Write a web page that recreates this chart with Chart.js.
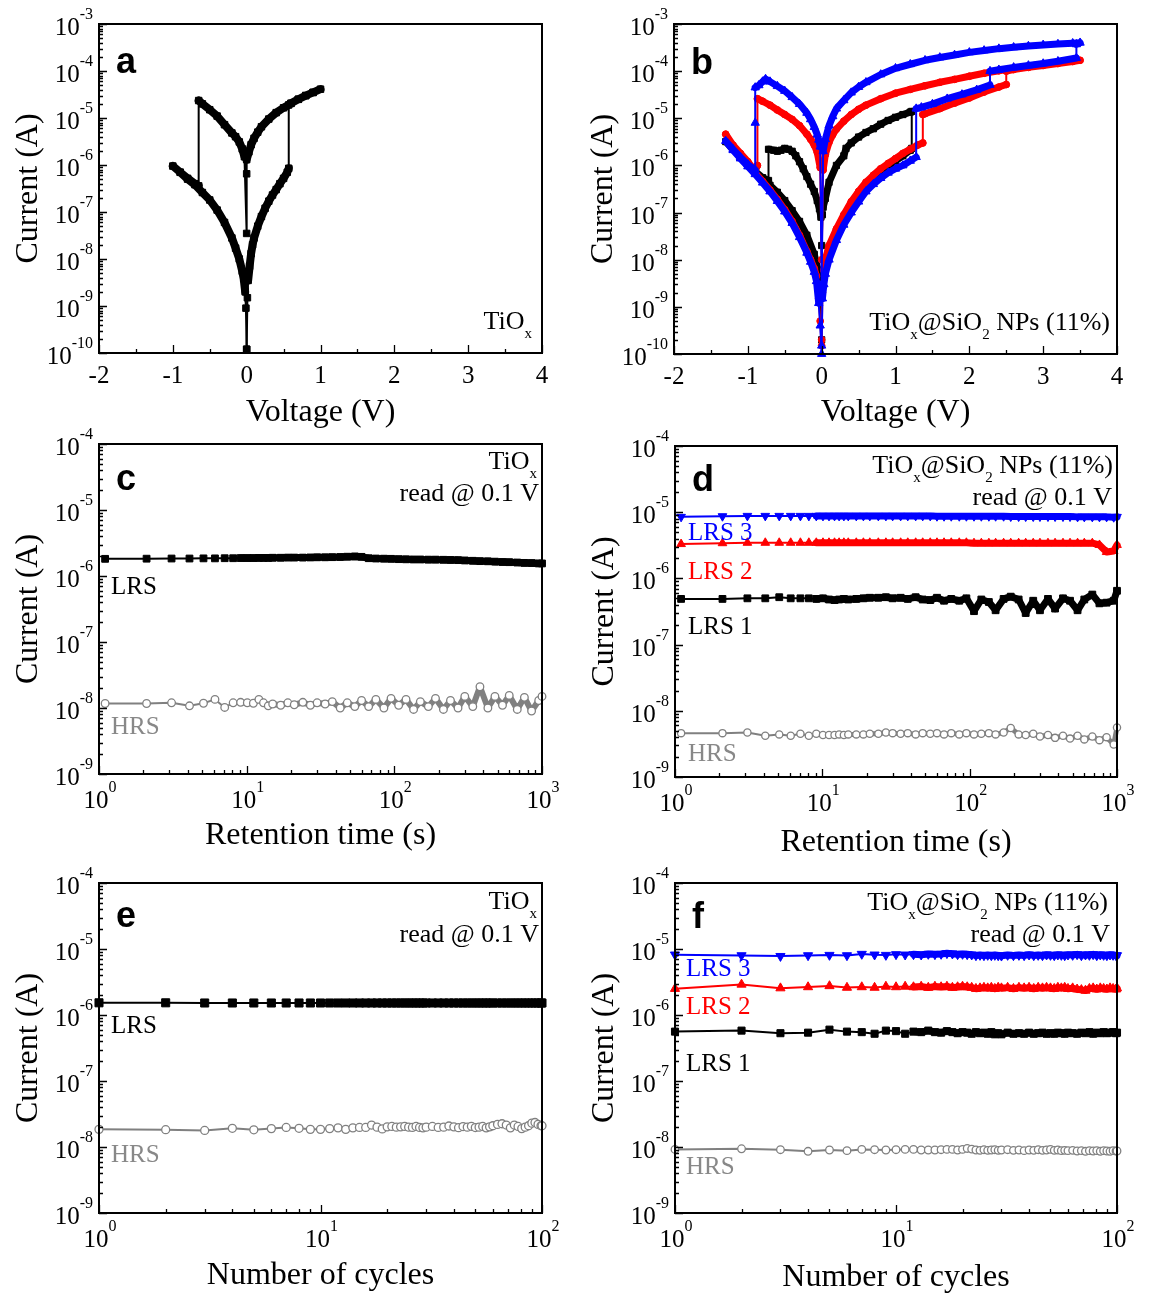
<!DOCTYPE html>
<html>
<head>
<meta charset="utf-8">
<script src="https://cdn.jsdelivr.net/npm/chart.js@4/dist/chart.umd.min.js"></script>
<style>
  html, body { margin: 0; padding: 0; background: #fff; }
  body { position: relative; width: 1149px; height: 1295px; overflow: hidden; }
  canvas { position: absolute; }
</style>
</head>
<body>
<canvas id="pa"></canvas>
<canvas id="pb"></canvas>
<canvas id="pc"></canvas>
<canvas id="pd"></canvas>
<canvas id="pe"></canvas>
<canvas id="pf"></canvas>
<script>
// ---------------- data: (a) TiOx I-V sweep ----------------
const aVoltage = [
  0.00, 0.01, 0.02, 0.04, 0.06, 0.08, 0.10, 0.15, 0.20, 0.25, 0.30, 0.35, 0.40, 0.45, 0.50, 0.55, 0.57,
  0.57, 0.60, 0.70, 0.80, 0.90, 1.00, 0.90, 0.80, 0.70, 0.60, 0.50, 0.40, 0.30, 0.20, 0.15, 0.10, 0.06, 0.03,
  0.00, 0.00, 0.00,
  -0.03, -0.06, -0.10, -0.15, -0.20, -0.30, -0.40, -0.50, -0.60, -0.65,
  -0.65, -0.70, -0.80, -0.90, -1.00, -0.90, -0.80, -0.70, -0.60, -0.50, -0.40, -0.30, -0.20, -0.15, -0.10, -0.06, -0.04, -0.02, -0.01, 0.00
];
const aCurrent = [
  1.2e-10, 1.5e-9, 3.5e-9, 7e-9, 1.3e-8, 2e-8, 2.8e-8, 5e-8, 8e-8, 1.2e-7, 1.7e-7, 2.3e-7, 3e-7, 4e-7, 5.2e-7, 7e-7, 8.5e-7,
  1.9e-5, 2.05e-5, 2.5e-5, 3e-5, 3.5e-5, 4.1e-5, 3.5e-5, 3e-5, 2.5e-5, 2.05e-5, 1.65e-5, 1.3e-5, 9.5e-6, 6.5e-6, 5e-6, 3.7e-6, 2.7e-6, 1.9e-6,
  1.3e-6, 6.5e-7, 3.5e-8,
  1.5e-6, 2.2e-6, 3.1e-6, 4e-6, 4.8e-6, 7.2e-6, 1.1e-5, 1.5e-5, 2e-5, 2.35e-5,
  3.6e-7, 4e-7, 5.2e-7, 7e-7, 9.5e-7, 7e-7, 5e-7, 3.8e-7, 2.6e-7, 1.8e-7, 1.1e-7, 6e-8, 2.8e-8, 1.7e-8, 1e-8, 5.5e-9, 3.8e-9, 2e-9, 9e-10, 1.2e-10
];

// ---------------- data: (b) TiOx@SiO2 I-V, three sweeps ----------------
const bBlackV = [
  0.01, 0.02, 0.05, 0.10, 0.20, 0.30, 0.40, 0.50, 0.60, 0.70, 0.80, 0.90, 1.00, 1.10, 1.20, 1.22,
  1.22, 1.20, 1.10, 1.00, 0.90, 0.80, 0.70, 0.60, 0.50, 0.40, 0.33, 0.30, 0.20, 0.10, 0.05, 0.02, 0.01,
  0.00, -0.01,
  -0.03, -0.06, -0.10, -0.15, -0.20, -0.25, -0.30, -0.35, -0.40, -0.45, -0.50, -0.55, -0.60, -0.65, -0.72,
  -0.72, -0.80, -0.90, -1.00, -1.10, -1.20, -1.30,
  -1.20, -1.10, -1.00, -0.90, -0.80, -0.70, -0.60, -0.50, -0.40, -0.30, -0.20, -0.10, -0.05, -0.02, 0.00
];
const bBlackI = [
  3e-9, 5e-9, 9e-9, 1.8e-8, 4e-8, 8e-8, 1.4e-7, 2.3e-7, 3.5e-7, 5e-7, 7e-7, 9.5e-7, 1.25e-6, 1.6e-6, 2.1e-6, 2.3e-6,
  1.4e-5, 1.35e-5, 1.2e-5, 1.05e-5, 9e-6, 7.5e-6, 6e-6, 5e-6, 4e-6, 3e-6, 2.3e-6, 1.6e-6, 1e-6, 4.4e-7, 2e-7, 1.3e-7, 9e-8,
  2e-8, 8e-8,
  1.2e-7, 1.8e-7, 2.8e-7, 4e-7, 5.8e-7, 8.5e-7, 1.2e-6, 1.6e-6, 2e-6, 2.2e-6, 2.3e-6, 2.1e-6, 2e-6, 2.1e-6, 2.2e-6,
  4.8e-7, 5.5e-7, 7.5e-7, 1e-6, 1.5e-6, 2.2e-6, 3.2e-6,
  2.2e-6, 1.5e-6, 1e-6, 7.5e-7, 5.2e-7, 3.8e-7, 2.7e-7, 1.8e-7, 1.1e-7, 6.5e-8, 3.3e-8, 1.3e-8, 6e-9, 3e-9, 2e-10
];
const bRedV = [
  0.00, 0.01, 0.03, 0.05, 0.10, 0.20, 0.30, 0.40, 0.50, 0.60, 0.70, 0.80, 0.90, 1.00, 1.10, 1.20, 1.30, 1.37,
  1.37, 1.40, 1.60, 1.80, 2.00, 2.20, 2.40, 2.50, 2.50, 2.60, 2.80, 3.00, 3.20, 3.40, 3.50,
  3.40, 3.20, 3.00, 2.80, 2.60, 2.40, 2.20, 2.00, 1.80, 1.60, 1.40, 1.20, 1.00, 0.80, 0.60, 0.50, 0.40, 0.30, 0.20, 0.15, 0.10, 0.05, 0.02,
  0.00,
  -0.02, -0.06, -0.10, -0.15, -0.20, -0.30, -0.40, -0.50, -0.60, -0.70, -0.80, -0.87,
  -0.87, -0.90, -1.00, -1.10, -1.20, -1.30,
  -1.20, -1.10, -1.00, -0.90, -0.80, -0.70, -0.60, -0.50, -0.40, -0.30, -0.20, -0.15, -0.10, -0.07, -0.04, -0.02, 0.00
];
const bRedI = [
  2e-10, 2e-9, 6e-9, 1e-8, 2e-8, 4.5e-8, 9e-8, 1.7e-7, 2.8e-7, 4.4e-7, 6.2e-7, 8.5e-7, 1.1e-6, 1.4e-6, 1.8e-6, 2.2e-6, 2.7e-6, 3e-6,
  1.2e-5, 1.25e-5, 1.6e-5, 2.1e-5, 2.7e-5, 3.6e-5, 4.6e-5, 5.2e-5, 1e-4, 1.08e-4, 1.2e-4, 1.32e-4, 1.45e-4, 1.6e-4, 1.7e-4,
  1.65e-4, 1.52e-4, 1.4e-4, 1.28e-4, 1.15e-4, 1.02e-4, 9e-5, 7.8e-5, 6.7e-5, 5.8e-5, 4.9e-5, 4.1e-5, 3.4e-5, 2.6e-5, 1.9e-5, 1.55e-5, 1.2e-5, 8.7e-6, 5.9e-6, 4.5e-6, 3.1e-6, 1.7e-6, 8e-7,
  1e-8,
  9e-7, 1.9e-6, 2.7e-6, 3.6e-6, 4.6e-6, 7e-6, 9.5e-6, 1.2e-5, 1.5e-5, 1.9e-5, 2.3e-5, 2.6e-5,
  1e-6, 7.5e-7, 1.2e-6, 1.8e-6, 2.7e-6, 4.6e-6,
  2.5e-6, 1.6e-6, 1.05e-6, 7e-7, 4.6e-7, 3e-7, 1.9e-7, 1.15e-7, 6.5e-8, 3.3e-8, 1.5e-8, 1e-8, 6.5e-9, 4.5e-9, 1.5e-9, 5e-10, 1.5e-10
];
const bBlueV = [
  0.00, 0.01, 0.03, 0.05, 0.10, 0.20, 0.30, 0.40, 0.50, 0.60, 0.70, 0.80, 0.90, 1.00, 1.10, 1.20, 1.28,
  1.28, 1.35, 1.50, 1.70, 1.90, 2.10, 2.28, 2.28, 2.40, 2.60, 2.80, 3.00, 3.20, 3.45, 3.45, 3.50,
  3.40, 3.20, 3.00, 2.80, 2.60, 2.40, 2.20, 2.00, 1.80, 1.60, 1.40, 1.20, 1.00, 0.80, 0.60, 0.50, 0.40, 0.30, 0.20, 0.15, 0.10, 0.05, 0.02,
  0.00,
  -0.02, -0.04, -0.06, -0.10, -0.15, -0.20, -0.30, -0.40, -0.50, -0.60, -0.70, -0.76, -0.80, -0.85, -0.90,
  -0.90, -0.90, -1.00, -1.10, -1.20, -1.30,
  -1.20, -1.10, -1.00, -0.90, -0.80, -0.70, -0.60, -0.50, -0.40, -0.30, -0.20, -0.15, -0.10, -0.07, -0.04, -0.02, 0.00
];
const bBlueI = [
  1.5e-10, 1.5e-9, 3e-9, 5e-9, 1e-8, 2.6e-8, 5.5e-8, 1e-7, 1.7e-7, 2.8e-7, 4e-7, 5.4e-7, 7e-7, 8.5e-7, 1e-6, 1.25e-6, 1.5e-6,
  1.6e-5, 1.7e-5, 2e-5, 2.6e-5, 3.2e-5, 4e-5, 5.1e-5, 1e-4, 1.07e-4, 1.2e-4, 1.32e-4, 1.45e-4, 1.62e-4, 1.9e-4, 3.7e-4, 4e-4,
  3.9e-4, 3.75e-4, 3.6e-4, 3.4e-4, 3.2e-4, 3e-4, 2.75e-4, 2.5e-4, 2.2e-4, 1.95e-4, 1.7e-4, 1.4e-4, 1.15e-4, 8.5e-5, 5.8e-5, 4.6e-5, 3.5e-5, 2.4e-5, 1.6e-5, 1.1e-5, 7e-6, 3.6e-6, 2e-6,
  3e-9,
  2.5e-6, 3.5e-6, 4.5e-6, 6.5e-6, 9.5e-6, 1.3e-5, 2e-5, 2.8e-5, 3.8e-5, 4.8e-5, 6e-5, 6.8e-5, 6e-5, 5e-5, 4.5e-5,
  8e-6, 8e-7, 1.05e-6, 1.5e-6, 2.2e-6, 3.3e-6,
  2.1e-6, 1.4e-6, 9.5e-7, 6.5e-7, 4.3e-7, 2.8e-7, 1.75e-7, 1.05e-7, 6e-8, 3e-8, 1.4e-8, 9e-9, 5.5e-9, 3.5e-9, 1.2e-9, 4e-10, 1e-10
];

// ---------------- data: (c, d) retention ----------------
const retentionTime = [1.1, 2.1, 3.1, 4.1, 5.1, 6.1, 7.1, 8.1, 9.1, 10.1, 11.1, 12.1, 13, 14, 15, 17, 19, 21, 24, 27, 30,
  34, 38, 43, 48, 54, 60, 67, 75, 85, 95, 107, 120, 135, 150, 170, 190, 215, 240, 270, 300,
  340, 380, 430, 480, 540, 600, 680, 760, 850, 950, 1000];
const cLRS = [1.82e-6, 1.83e-6, 1.84e-6, 1.84e-6, 1.85e-6, 1.85e-6, 1.86e-6, 1.86e-6, 1.87e-6, 1.87e-6, 1.87e-6, 1.88e-6,
  1.88e-6, 1.88e-6, 1.89e-6, 1.89e-6, 1.9e-6, 1.9e-6, 1.9e-6, 1.91e-6, 1.92e-6,
  1.92e-6, 1.93e-6, 1.94e-6, 1.96e-6, 1.98e-6, 1.95e-6, 1.86e-6, 1.84e-6, 1.83e-6, 1.82e-6, 1.8e-6,
  1.79e-6, 1.78e-6, 1.78e-6, 1.77e-6, 1.77e-6, 1.76e-6, 1.75e-6, 1.74e-6, 1.72e-6,
  1.7e-6, 1.68e-6, 1.67e-6, 1.65e-6, 1.63e-6, 1.62e-6, 1.6e-6, 1.58e-6, 1.57e-6, 1.55e-6, 1.55e-6];
const cHRS = [1.17e-8, 1.17e-8, 1.2e-8, 1.08e-8, 1.18e-8, 1.35e-8, 1.02e-8, 1.2e-8, 1.22e-8, 1.2e-8, 1.18e-8, 1.35e-8,
  1.2e-8, 1.08e-8, 1.15e-8, 1.1e-8, 1.2e-8, 1.12e-8, 1.22e-8, 1.1e-8, 1.2e-8,
  1.15e-8, 1.25e-8, 1.0e-8, 1.2e-8, 1.05e-8, 1.3e-8, 1.05e-8, 1.35e-8, 1.0e-8, 1.4e-8, 1.1e-8,
  1.35e-8, 0.95e-8, 1.25e-8, 1.05e-8, 1.4e-8, 0.95e-8, 1.3e-8, 1.0e-8, 1.5e-8,
  1.05e-8, 2.1e-8, 1.0e-8, 1.5e-8, 1.1e-8, 1.55e-8, 0.95e-8, 1.45e-8, 0.9e-8, 1.3e-8, 1.5e-8];
const dLRS3 = [8.5e-6, 8.7e-6, 8.8e-6, 8.8e-6, 8.8e-6, 8.8e-6, 8.8e-6, 8.8e-6, 8.8e-6, 8.8e-6, 8.8e-6, 8.8e-6,
  8.8e-6, 8.8e-6, 8.8e-6, 8.8e-6, 8.8e-6, 8.8e-6, 8.8e-6, 8.8e-6, 8.8e-6,
  8.8e-6, 8.8e-6, 8.8e-6, 8.8e-6, 8.8e-6, 8.7e-6, 8.7e-6, 8.7e-6, 8.7e-6, 8.7e-6, 8.7e-6,
  8.7e-6, 8.7e-6, 8.7e-6, 8.7e-6, 8.6e-6, 8.6e-6, 8.6e-6, 8.6e-6, 8.6e-6,
  8.6e-6, 8.6e-6, 8.6e-6, 8.6e-6, 8.5e-6, 8.5e-6, 8.5e-6, 8.5e-6, 8.5e-6, 8.4e-6, 8.5e-6];
const dLRS2 = [3.3e-6, 3.4e-6, 3.45e-6, 3.45e-6, 3.45e-6, 3.45e-6, 3.45e-6, 3.45e-6, 3.45e-6, 3.45e-6, 3.45e-6, 3.45e-6,
  3.45e-6, 3.45e-6, 3.45e-6, 3.45e-6, 3.45e-6, 3.45e-6, 3.45e-6, 3.45e-6, 3.45e-6,
  3.45e-6, 3.45e-6, 3.45e-6, 3.45e-6, 3.45e-6, 3.45e-6, 3.45e-6, 3.45e-6, 3.45e-6, 3.45e-6, 3.4e-6,
  3.4e-6, 3.4e-6, 3.4e-6, 3.4e-6, 3.4e-6, 3.4e-6, 3.4e-6, 3.4e-6, 3.4e-6,
  3.4e-6, 3.4e-6, 3.4e-6, 3.4e-6, 3.4e-6, 3.4e-6, 3.4e-6, 3.2e-6, 2.5e-6, 2.6e-6, 3.2e-6];
const dLRS1 = [4.9e-7, 4.9e-7, 5.0e-7, 5.0e-7, 5.2e-7, 5.0e-7, 5.0e-7, 5.0e-7, 4.9e-7, 5.0e-7, 4.8e-7, 4.7e-7,
  4.8e-7, 4.9e-7, 4.8e-7, 4.9e-7, 5.0e-7, 5.1e-7, 5.1e-7, 5.2e-7, 5.0e-7,
  5.1e-7, 4.9e-7, 5.2e-7, 4.8e-7, 4.7e-7, 5.1e-7, 4.6e-7, 4.9e-7, 4.6e-7, 5.0e-7, 3.2e-7,
  4.8e-7, 4.4e-7, 3.3e-7, 4.9e-7, 5.3e-7, 4.8e-7, 3.0e-7, 4.6e-7, 3.3e-7,
  4.9e-7, 3.5e-7, 5.0e-7, 4.6e-7, 3.3e-7, 4.8e-7, 5.7e-7, 4.2e-7, 4.3e-7, 4.6e-7, 6.5e-7];
const dHRS = [4.6e-9, 4.6e-9, 4.7e-9, 4.2e-9, 4.4e-9, 4.2e-9, 4.5e-9, 4.2e-9, 4.5e-9, 4.3e-9, 4.3e-9, 4.3e-9,
  4.4e-9, 4.3e-9, 4.4e-9, 4.4e-9, 4.4e-9, 4.5e-9, 4.5e-9, 4.7e-9, 4.6e-9,
  4.5e-9, 4.6e-9, 4.4e-9, 4.6e-9, 4.5e-9, 4.6e-9, 4.4e-9, 4.6e-9, 4.4e-9, 4.6e-9, 4.4e-9,
  4.5e-9, 4.6e-9, 4.4e-9, 4.7e-9, 5.5e-9, 4.4e-9, 4.3e-9, 4.5e-9, 4.1e-9,
  4.3e-9, 3.9e-9, 4.2e-9, 3.8e-9, 4.2e-9, 3.7e-9, 4.1e-9, 3.6e-9, 4.0e-9, 3.1e-9, 5.6e-9];

// ---------------- data: (e, f) endurance ----------------
const cycleNumber = [1, 2, 3, 4, 5, 6, 7, 8, 9, 10, 11, 12, 13, 14, 15, 16, 17, 18, 19, 20,
  21, 22, 23, 24, 25, 26, 27, 28, 29, 30,
  32, 34, 36, 38, 40, 42, 44, 46, 48, 50, 52, 54, 56, 58, 60,
  63, 66, 69, 72, 75, 78, 81, 84, 87, 90, 93, 96, 99, 100];
const eLRS = [1.53e-6, 1.53e-6, 1.52e-6, 1.52e-6, 1.52e-6, 1.52e-6, 1.52e-6, 1.52e-6, 1.52e-6, 1.52e-6,
  1.52e-6, 1.52e-6, 1.52e-6, 1.52e-6, 1.52e-6, 1.52e-6, 1.52e-6, 1.52e-6, 1.52e-6, 1.52e-6,
  1.52e-6, 1.52e-6, 1.52e-6, 1.52e-6, 1.52e-6, 1.52e-6, 1.52e-6, 1.52e-6, 1.52e-6, 1.52e-6,
  1.52e-6, 1.52e-6, 1.52e-6, 1.52e-6, 1.52e-6, 1.52e-6, 1.52e-6, 1.52e-6, 1.52e-6, 1.52e-6, 1.52e-6, 1.52e-6, 1.52e-6, 1.52e-6, 1.52e-6,
  1.52e-6, 1.52e-6, 1.52e-6, 1.52e-6, 1.52e-6, 1.52e-6, 1.52e-6, 1.52e-6, 1.52e-6, 1.52e-6, 1.52e-6, 1.52e-6, 1.52e-6, 1.52e-6];
const eHRS = [1.85e-8, 1.83e-8, 1.78e-8, 1.92e-8, 1.82e-8, 1.9e-8, 1.98e-8, 1.92e-8, 1.85e-8, 1.85e-8,
  1.9e-8, 1.95e-8, 1.85e-8, 1.95e-8, 1.98e-8, 1.98e-8, 2.15e-8, 2.0e-8, 1.88e-8, 2.02e-8,
  2.05e-8, 2.0e-8, 2.02e-8, 2.05e-8, 2.0e-8, 1.98e-8, 2.05e-8, 1.98e-8, 1.95e-8, 2.0e-8,
  2.05e-8, 1.98e-8, 2.0e-8, 2.08e-8, 2.02e-8, 1.96e-8, 2.04e-8, 2.0e-8, 2.06e-8, 1.97e-8, 2.0e-8, 2.05e-8, 1.95e-8, 2.02e-8, 2.1e-8,
  2.2e-8, 2.25e-8, 2.15e-8, 1.95e-8, 2.15e-8, 2.05e-8, 1.9e-8, 2.0e-8, 2.1e-8, 2.3e-8, 2.35e-8, 2.2e-8, 2.1e-8, 2.1e-8];
const fLRS3 = [8.2e-6, 8.0e-6, 7.8e-6, 8.0e-6, 8.1e-6, 8.0e-6, 8.4e-6, 8.2e-6, 8.1e-6, 8.3e-6,
  8.2e-6, 8.3e-6, 8.2e-6, 8.4e-6, 8.3e-6, 8.4e-6, 8.6e-6, 8.5e-6, 8.3e-6, 8.4e-6,
  8.3e-6, 8.2e-6, 8.0e-6, 8.1e-6, 8.0e-6, 8.1e-6, 8.0e-6, 8.1e-6, 8.0e-6, 7.9e-6,
  8.1e-6, 8.0e-6, 8.1e-6, 8.0e-6, 8.2e-6, 8.0e-6, 8.1e-6, 8.0e-6, 8.2e-6, 8.1e-6, 8.0e-6, 8.2e-6, 8.1e-6, 8.0e-6, 8.2e-6,
  8.1e-6, 8.3e-6, 8.0e-6, 8.2e-6, 8.1e-6, 8.3e-6, 8.0e-6, 8.2e-6, 8.1e-6, 8.0e-6, 8.2e-6, 8.1e-6, 8.0e-6, 8.0e-6];
const fLRS2 = [2.5e-6, 2.9e-6, 2.55e-6, 2.65e-6, 2.75e-6, 2.6e-6, 2.65e-6, 2.6e-6, 2.7e-6, 2.65e-6,
  2.7e-6, 2.65e-6, 2.7e-6, 2.6e-6, 2.7e-6, 2.65e-6, 2.7e-6, 2.6e-6, 2.65e-6, 2.7e-6,
  2.65e-6, 2.6e-6, 2.5e-6, 2.55e-6, 2.6e-6, 2.55e-6, 2.6e-6, 2.5e-6, 2.6e-6, 2.55e-6,
  2.6e-6, 2.5e-6, 2.6e-6, 2.55e-6, 2.6e-6, 2.5e-6, 2.6e-6, 2.55e-6, 2.6e-6, 2.55e-6, 2.5e-6, 2.6e-6, 2.55e-6, 2.6e-6, 2.5e-6,
  2.55e-6, 2.45e-6, 2.4e-6, 2.35e-6, 2.5e-6, 2.55e-6, 2.45e-6, 2.55e-6, 2.5e-6, 2.45e-6, 2.55e-6, 2.5e-6, 2.45e-6, 2.55e-6];
const fLRS1 = [5.6e-7, 5.8e-7, 5.3e-7, 5.4e-7, 6.0e-7, 5.6e-7, 5.5e-7, 5.2e-7, 5.8e-7, 5.7e-7,
  5.2e-7, 5.6e-7, 5.5e-7, 5.8e-7, 5.5e-7, 5.4e-7, 5.7e-7, 5.5e-7, 5.3e-7, 5.5e-7,
  5.4e-7, 5.2e-7, 5.5e-7, 5.3e-7, 5.4e-7, 5.2e-7, 5.5e-7, 5.1e-7, 5.3e-7, 5.1e-7,
  5.4e-7, 5.2e-7, 5.3e-7, 5.2e-7, 5.4e-7, 5.2e-7, 5.3e-7, 5.4e-7, 5.2e-7, 5.3e-7, 5.2e-7, 5.4e-7, 5.3e-7, 5.2e-7, 5.4e-7,
  5.3e-7, 5.2e-7, 5.4e-7, 5.3e-7, 5.5e-7, 5.2e-7, 5.4e-7, 5.3e-7, 5.5e-7, 5.3e-7, 5.4e-7, 5.5e-7, 5.3e-7, 5.4e-7];
const fHRS = [9.2e-9, 9.4e-9, 9.1e-9, 8.6e-9, 9.0e-9, 8.8e-9, 9.2e-9, 9.1e-9, 9.0e-9, 9.1e-9,
  9.2e-9, 9.2e-9, 9.0e-9, 9.0e-9, 9.0e-9, 9.1e-9, 9.2e-9, 9.2e-9, 9.0e-9, 9.2e-9,
  9.5e-9, 9.3e-9, 9.0e-9, 8.9e-9, 9.1e-9, 8.9e-9, 9.0e-9, 9.1e-9, 8.9e-9, 9.0e-9,
  9.1e-9, 8.9e-9, 9.0e-9, 8.8e-9, 9.0e-9, 8.9e-9, 9.1e-9, 8.9e-9, 9.0e-9, 9.2e-9, 8.9e-9, 9.0e-9, 8.8e-9, 8.9e-9, 8.8e-9,
  8.9e-9, 8.7e-9, 8.8e-9, 8.6e-9, 8.8e-9, 8.7e-9, 8.8e-9, 8.6e-9, 8.8e-9, 8.7e-9, 8.6e-9, 8.8e-9, 8.7e-9, 8.7e-9];

// ---------------- drawing helpers ----------------
const SERIF = '"Liberation Serif", "Times New Roman", serif';
const SANS = '"Liberation Sans", Arial, sans-serif';
const BLACK = '#000000', RED = '#ff0000', BLUE = '#0000ff', GREY = '#808080';
const PAD = {left: 99, top: 24, right: 30, bottom: 92};
const TICK_FONT = 25;

function partFont(p, size) {
  if (p.s === 'sup') return Math.round(size * 0.64);
  if (p.s === 'sub') return Math.round(size * 0.58);
  return size;
}
function drawRich(ctx, parts, x, y, size, align, color) {
  let w = 0;
  parts.forEach(p => { ctx.font = partFont(p, size) + 'px ' + SERIF; w += ctx.measureText(p.t).width; });
  let cx = align === 'right' ? x - w : (align === 'center' ? x - w / 2 : x);
  ctx.textAlign = 'left';
  ctx.textBaseline = 'alphabetic';
  ctx.fillStyle = color || BLACK;
  parts.forEach(p => {
    ctx.font = partFont(p, size) + 'px ' + SERIF;
    const dy = p.s === 'sup' ? -size * 0.64 : (p.s === 'sub' ? size * 0.34 : 0);
    ctx.fillText(p.t, cx, y + dy);
    cx += ctx.measureText(p.t).width;
  });
}
const pow10 = e => [{t: '10'}, {t: String(e), s: 'sup'}];

function makeFrame(box, cfg) {
  return {
    id: 'frame',
    afterDatasetsDraw(chart) {
      const ctx = chart.ctx;
      const {left: l, top: t, right: r, bottom: b} = chart.chartArea;
      const ox = box.l - l, oy = box.t - t;   // page -> canvas offset
      const xs = chart.scales.x, ys = chart.scales.y;
      ctx.save();
      ctx.strokeStyle = BLACK;
      ctx.lineWidth = 1.3;
      ctx.beginPath();
      for (let e = cfg.yExp[0]; e <= cfg.yExp[1]; e++) {
        const y = Math.round(ys.getPixelForValue(Math.pow(10, e))) + 0.5;
        ctx.moveTo(l, y); ctx.lineTo(l + 8, y);
        if (e < cfg.yExp[1]) {
          for (let k = 2; k < 10; k++) {
            const ym = Math.round(ys.getPixelForValue(k * Math.pow(10, e))) + 0.5;
            ctx.moveTo(l, ym); ctx.lineTo(l + 4, ym);
          }
        }
      }
      if (cfg.xLog) {
        for (let e = cfg.xExp[0]; e <= cfg.xExp[1]; e++) {
          const x = Math.round(xs.getPixelForValue(Math.pow(10, e))) + 0.5;
          ctx.moveTo(x, b); ctx.lineTo(x, b - 8);
          if (e < cfg.xExp[1]) {
            for (let k = 2; k < 10; k++) {
              const xm = Math.round(xs.getPixelForValue(k * Math.pow(10, e))) + 0.5;
              ctx.moveTo(xm, b); ctx.lineTo(xm, b - 4);
            }
          }
        }
      } else {
        for (let v = cfg.xMin; v <= cfg.xMax; v += 0.5) {
          const x = Math.round(xs.getPixelForValue(v)) + 0.5;
          const major = Math.abs(v - Math.round(v)) < 1e-9;
          ctx.moveTo(x, b); ctx.lineTo(x, b - (major ? 8 : 4));
        }
      }
      ctx.stroke();
      ctx.lineWidth = 2;
      ctx.strokeRect(l, t, r - l, b - t);

      // tick labels
      for (let e = cfg.yExp[0]; e <= cfg.yExp[1]; e++) {
        const y = ys.getPixelForValue(Math.pow(10, e));
        drawRich(ctx, pow10(e), l - 6, y + 11, TICK_FONT, 'right');
      }
      if (cfg.xLog) {
        for (let e = cfg.xExp[0]; e <= cfg.xExp[1]; e++) {
          drawRich(ctx, pow10(e), xs.getPixelForValue(Math.pow(10, e)) + 1, b + 34, TICK_FONT, 'center');
        }
      } else {
        for (let v = cfg.xMin; v <= cfg.xMax; v++) {
          drawRich(ctx, [{t: String(v)}], xs.getPixelForValue(v), b + 30, TICK_FONT, 'center');
        }
      }

      // axis titles
      ctx.fillStyle = BLACK;
      ctx.font = '32px ' + SERIF;
      ctx.textAlign = 'center';
      ctx.textBaseline = 'alphabetic';
      ctx.fillText(cfg.xTitle, (l + r) / 2, b + cfg.xTitleDy);
      ctx.save();
      ctx.translate(l - 62, (t + b) / 2);
      ctx.rotate(-Math.PI / 2);
      ctx.fillText('Current (A)', 0, 0);
      ctx.restore();

      // panel letter
      ctx.font = 'bold 36px ' + SANS;
      ctx.textAlign = 'left';
      ctx.fillText(cfg.letter, l + 17, t + cfg.letterDy);

      // annotations (page coordinates)
      cfg.notes.forEach(n => drawRich(ctx, n.parts, n.x - ox, n.y - oy, n.size || 26, n.align, n.color));
      ctx.restore();
    }
  };
}

// thick band where the dense markers overlap, thin connecting line on jumps
function ivSeg(band, thin) {
  return c => {
    const dx = Math.abs(c.p1.x - c.p0.x), dy = Math.abs(c.p1.y - c.p0.y);
    return dy < 10 * dx ? band : thin;
  };
}
function stepSeg(band, thin, markPx) {
  return c => {
    const s = c.chart.scales.x;
    const x0 = c.chart.data.datasets[c.datasetIndex].data[c.p0DataIndex].x;
    return (s.getPixelForValue(x0 + 1) - s.getPixelForValue(x0)) < markPx ? band : thin;
  };
}

function series(xs, ys, st) {
  return {
    data: xs.map((x, i) => ({x: x, y: ys[i]})),
    showLine: true,
    tension: 0,
    borderColor: st.color,
    borderWidth: st.thin,
    borderJoinStyle: 'round',
    borderCapStyle: 'round',
    segment: {borderWidth: st.seg},
    pointStyle: st.shape,
    pointRadius: st.r,
    pointRotation: st.rot || 0,
    pointBackgroundColor: st.fill,
    pointBorderColor: st.color,
    pointBorderWidth: st.pbw || 1,
    pointHoverRadius: st.r,
    order: st.order || 0,
    clip: 8
  };
}

function panel(id, box, cfg) {
  const cv = document.getElementById(id);
  const w = box.r - box.l + PAD.left + PAD.right;
  const h = box.b - box.t + PAD.top + PAD.bottom;
  cv.width = w; cv.height = h;
  cv.style.width = w + 'px'; cv.style.height = h + 'px';
  cv.style.left = (box.l - PAD.left) + 'px';
  cv.style.top = (box.t - PAD.top) + 'px';
  return new Chart(cv, {
    type: 'scatter',
    data: {datasets: cfg.datasets},
    options: {
      responsive: false,
      animation: false,
      devicePixelRatio: 1,
      events: [],
      layout: {padding: PAD},
      plugins: {legend: {display: false}, tooltip: {enabled: false}},
      scales: {
        x: {type: cfg.xLog ? 'logarithmic' : 'linear', min: cfg.xLog ? Math.pow(10, cfg.xExp[0]) : cfg.xMin,
            max: cfg.xLog ? Math.pow(10, cfg.xExp[1]) : cfg.xMax, display: false},
        y: {type: 'logarithmic', min: Math.pow(10, cfg.yExp[0]), max: Math.pow(10, cfg.yExp[1]), display: false}
      }
    },
    plugins: [makeFrame(box, cfg)]
  });
}

const tiox = [{t: 'TiO'}, {t: 'x', s: 'sub'}];
const tioxSio2 = [{t: 'TiO'}, {t: 'x', s: 'sub'}, {t: '@SiO'}, {t: '2', s: 'sub'}, {t: ' NPs (11%)'}];
const readAt = [{t: 'read @ 0.1 V'}];

// ---------------- (a) ----------------
panel('pa', {l: 99, t: 24, r: 542, b: 353}, {
  xMin: -2, xMax: 4, yExp: [-10, -3], xTitle: 'Voltage (V)', xTitleDy: 68, letter: 'a', letterDy: 49,
  notes: [{parts: tiox, x: 532, y: 329, align: 'right'}],
  datasets: [series(aVoltage, aCurrent, {color: BLACK, fill: BLACK, shape: 'rect', r: 4.6, thin: 2, seg: ivSeg(8, 2)})]
});

// ---------------- (b) ----------------
panel('pb', {l: 674, t: 24, r: 1117, b: 354}, {
  xMin: -2, xMax: 4, yExp: [-10, -3], xTitle: 'Voltage (V)', xTitleDy: 67, letter: 'b', letterDy: 50,
  notes: [{parts: tioxSio2, x: 1110, y: 330, align: 'right'}],
  datasets: [
    series(bBlueV, bBlueI, {color: BLUE, fill: BLUE, shape: 'triangle', r: 4.8, thin: 2, seg: ivSeg(7, 2), order: 0}),
    series(bRedV, bRedI, {color: RED, fill: RED, shape: 'circle', r: 3.4, thin: 2, seg: ivSeg(7, 2), order: 1}),
    series(bBlackV, bBlackI, {color: BLACK, fill: BLACK, shape: 'rect', r: 4.4, thin: 2, seg: ivSeg(7, 2), order: 2})
  ]
});

// ---------------- (c) ----------------
panel('pc', {l: 99, t: 444, r: 542, b: 774}, {
  xLog: true, xExp: [0, 3], yExp: [-9, -4], xTitle: 'Retention time (s)', xTitleDy: 70, letter: 'c', letterDy: 46,
  notes: [
    {parts: tiox, x: 537, y: 469, align: 'right'},
    {parts: readAt, x: 539, y: 501, align: 'right'},
    {parts: [{t: 'LRS'}], x: 111, y: 594, align: 'left', size: 25},
    {parts: [{t: 'HRS'}], x: 111, y: 734, align: 'left', size: 25, color: '#888888'}
  ],
  datasets: [
    series(retentionTime, cLRS, {color: BLACK, fill: BLACK, shape: 'rect', r: 4.8, thin: 2, seg: stepSeg(7, 2, 7)}),
    series(retentionTime, cHRS, {color: GREY, fill: '#ffffff', shape: 'circle', r: 3.8, thin: 2, pbw: 1.3, seg: stepSeg(6, 2, 7)})
  ]
});

// ---------------- (d) ----------------
panel('pd', {l: 675, t: 446, r: 1117, b: 777}, {
  xLog: true, xExp: [0, 3], yExp: [-9, -4], xTitle: 'Retention time (s)', xTitleDy: 74, letter: 'd', letterDy: 45,
  notes: [
    {parts: tioxSio2, x: 1113, y: 473, align: 'right'},
    {parts: readAt, x: 1112, y: 505, align: 'right'},
    {parts: [{t: 'LRS 3'}], x: 688, y: 540, align: 'left', size: 25, color: BLUE},
    {parts: [{t: 'LRS 2'}], x: 688, y: 579, align: 'left', size: 25, color: RED},
    {parts: [{t: 'LRS 1'}], x: 688, y: 634, align: 'left', size: 25},
    {parts: [{t: 'HRS'}], x: 688, y: 761, align: 'left', size: 25, color: '#888888'}
  ],
  datasets: [
    series(retentionTime, dLRS3, {color: BLUE, fill: BLUE, shape: 'triangle', rot: 180, r: 5, thin: 2, seg: stepSeg(7, 2, 7)}),
    series(retentionTime, dLRS2, {color: RED, fill: RED, shape: 'triangle', r: 5, thin: 2, seg: stepSeg(7, 2, 7)}),
    series(retentionTime, dLRS1, {color: BLACK, fill: BLACK, shape: 'rect', r: 4.8, thin: 2, seg: stepSeg(7, 2, 7)}),
    series(retentionTime, dHRS, {color: GREY, fill: '#ffffff', shape: 'circle', r: 3.6, thin: 2, pbw: 1.3, seg: stepSeg(5, 2, 7)})
  ]
});

// ---------------- (e) ----------------
panel('pe', {l: 99, t: 883, r: 542, b: 1213}, {
  xLog: true, xExp: [0, 2], yExp: [-9, -4], xTitle: 'Number of cycles', xTitleDy: 71, letter: 'e', letterDy: 44,
  notes: [
    {parts: tiox, x: 537, y: 909, align: 'right'},
    {parts: readAt, x: 539, y: 942, align: 'right'},
    {parts: [{t: 'LRS'}], x: 111, y: 1033, align: 'left', size: 25},
    {parts: [{t: 'HRS'}], x: 111, y: 1162, align: 'left', size: 25, color: '#888888'}
  ],
  datasets: [
    series(cycleNumber, eLRS, {color: BLACK, fill: BLACK, shape: 'rect', r: 5.7, thin: 2, seg: stepSeg(8, 2, 8)}),
    series(cycleNumber, eHRS, {color: GREY, fill: '#ffffff', shape: 'circle', r: 4, thin: 2, pbw: 1.3, seg: stepSeg(5, 2, 8)})
  ]
});

// ---------------- (f) ----------------
panel('pf', {l: 675, t: 883, r: 1117, b: 1213}, {
  xLog: true, xExp: [0, 2], yExp: [-9, -4], xTitle: 'Number of cycles', xTitleDy: 73, letter: 'f', letterDy: 45,
  notes: [
    {parts: tioxSio2, x: 1108, y: 910, align: 'right'},
    {parts: readAt, x: 1110, y: 942, align: 'right'},
    {parts: [{t: 'LRS 3'}], x: 686, y: 976, align: 'left', size: 25, color: BLUE},
    {parts: [{t: 'LRS 2'}], x: 686, y: 1014, align: 'left', size: 25, color: RED},
    {parts: [{t: 'LRS 1'}], x: 686, y: 1071, align: 'left', size: 25},
    {parts: [{t: 'HRS'}], x: 686, y: 1174, align: 'left', size: 25, color: '#888888'}
  ],
  datasets: [
    series(cycleNumber, fLRS3, {color: BLUE, fill: BLUE, shape: 'triangle', rot: 180, r: 5.3, thin: 2, seg: stepSeg(7, 2, 8)}),
    series(cycleNumber, fLRS2, {color: RED, fill: RED, shape: 'triangle', r: 5.3, thin: 2, seg: stepSeg(7, 2, 8)}),
    series(cycleNumber, fLRS1, {color: BLACK, fill: BLACK, shape: 'rect', r: 5, thin: 2, seg: stepSeg(7, 2, 8)}),
    series(cycleNumber, fHRS, {color: GREY, fill: '#ffffff', shape: 'circle', r: 3.8, thin: 2, pbw: 1.3, seg: stepSeg(5, 2, 8)})
  ]
});
</script>
</body>
</html>
